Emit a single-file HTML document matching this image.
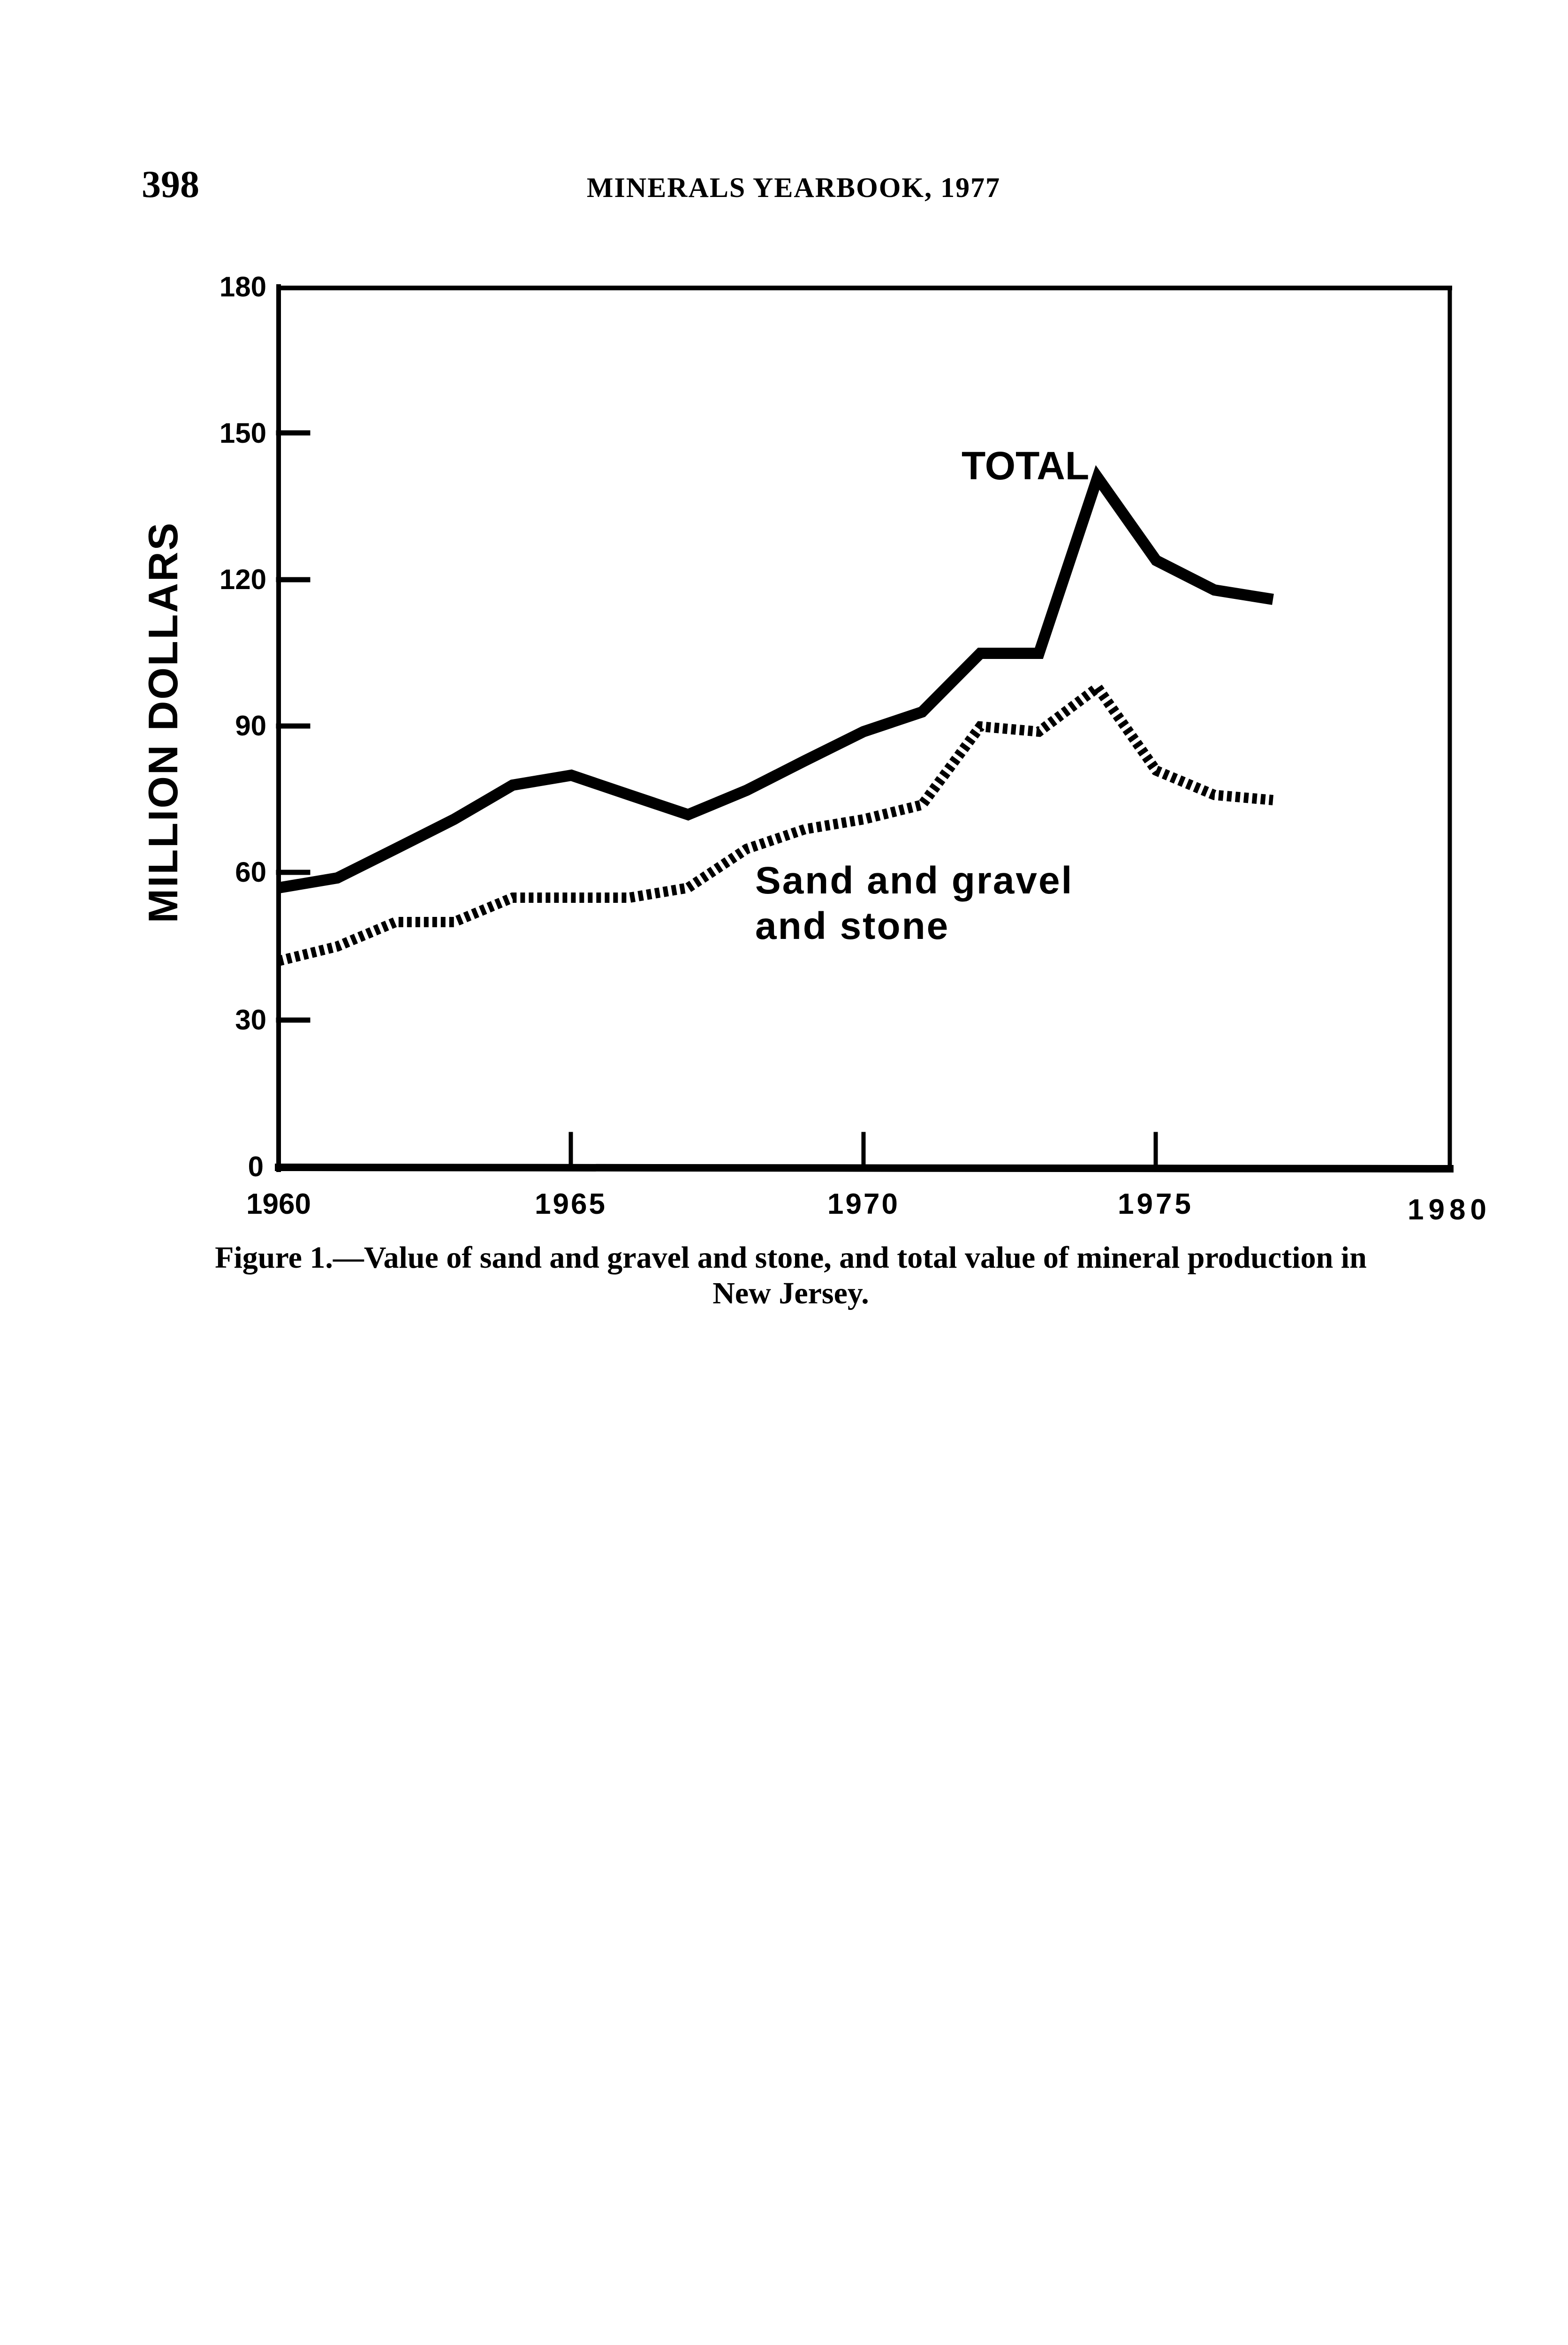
<!DOCTYPE html>
<html><head><meta charset="utf-8"><style>
html,body{margin:0;padding:0;background:#fff;}
body{width:3343px;height:5423px;position:relative;overflow:hidden;}
svg{display:block;}
</style></head><body>
<svg width="3343" height="5423" viewBox="0 0 3343 5423" xmlns="http://www.w3.org/2000/svg">
<rect width="3343" height="5423" fill="#fff"/>
<text x="302" y="420" font-family="Liberation Serif, serif" font-size="82" font-weight="bold">398</text>
<text x="1692" y="420" text-anchor="middle" font-family="Liberation Serif, serif" font-size="60" font-weight="bold" letter-spacing="2">MINERALS YEARBOOK, 1977</text>

<g stroke="#000" fill="none" stroke-linecap="square">
<line x1="594" y1="614" x2="3091" y2="614" stroke-width="10"/>
<line x1="594" y1="611" x2="594" y2="2494" stroke-width="10"/>
<line x1="3091" y1="614" x2="3091" y2="2494" stroke-width="9"/>
<line x1="594" y1="2489" x2="3091" y2="2492" stroke-width="16"/>
<line x1="594" y1="923" x2="656" y2="923" stroke-width="11"/>
<line x1="594" y1="1236" x2="656" y2="1236" stroke-width="11"/>
<line x1="594" y1="1548" x2="656" y2="1548" stroke-width="11"/>
<line x1="594" y1="1860" x2="656" y2="1860" stroke-width="11"/>
<line x1="594" y1="2175" x2="656" y2="2175" stroke-width="11"/>
<line x1="1217" y1="2418" x2="1217" y2="2489" stroke-width="9"/>
<line x1="1841" y1="2418" x2="1841" y2="2489" stroke-width="9"/>
<line x1="2464" y1="2418" x2="2464" y2="2489" stroke-width="9"/>
</g>

<g font-family="Liberation Sans, sans-serif" font-size="60" font-weight="bold" text-anchor="end">
<text x="568" y="632">180</text>
<text x="568" y="944">150</text>
<text x="568" y="1256">120</text>
<text x="568" y="1568">90</text>
<text x="568" y="1880">60</text>
<text x="568" y="2195">30</text>
<text x="562" y="2508">0</text>
</g>
<g font-family="Liberation Sans, sans-serif" font-size="62" font-weight="bold" text-anchor="middle">
<text x="594" y="2588">1960</text>
<text x="1217" y="2588" letter-spacing="4">1965</text>
<text x="1841" y="2588" letter-spacing="4">1970</text>
<text x="2464" y="2588" letter-spacing="6">1975</text>
<text x="3090" y="2600" letter-spacing="10">1980</text>
</g>
<text transform="translate(378,1540) rotate(-90)" text-anchor="middle" font-family="Liberation Sans, sans-serif" font-size="88" font-weight="bold" letter-spacing="3">MILLION DOLLARS</text>

<polyline fill="none" stroke="#000" stroke-width="24" stroke-linejoin="miter" stroke-linecap="butt"
points="594,1893 719,1872 843,1810 968,1747 1093,1674 1218,1653 1342,1695 1467,1737 1592,1685 1716,1622 1841,1560 1966,1518 2090,1393 2215,1393 2340,1018 2465,1195 2589,1258 2714,1278"/>
<polyline fill="none" stroke="#000" stroke-width="22" stroke-dasharray="10 8"
points="594,2049 719,2018 843,1966 968,1966 1093,1914 1218,1914 1342,1914 1467,1893 1592,1810 1716,1768 1841,1747 1966,1716 2090,1549 2215,1560 2340,1466 2465,1643 2589,1695 2714,1706"/>

<g font-family="Liberation Sans, sans-serif" font-weight="bold">
<text x="2050" y="1022" font-size="84">TOTAL</text>
<text x="1610" y="1905" font-size="82" letter-spacing="3">Sand and gravel</text>
<text x="1610" y="2002" font-size="82" letter-spacing="3">and stone</text>
</g>
<g font-family="Liberation Serif, serif" font-size="66" font-weight="bold" text-anchor="middle">
<text x="1686" y="2703">Figure 1.—Value of sand and gravel and stone, and total value of mineral production in</text>
<text x="1686" y="2779">New Jersey.</text>
</g>
</svg>
</body></html>
